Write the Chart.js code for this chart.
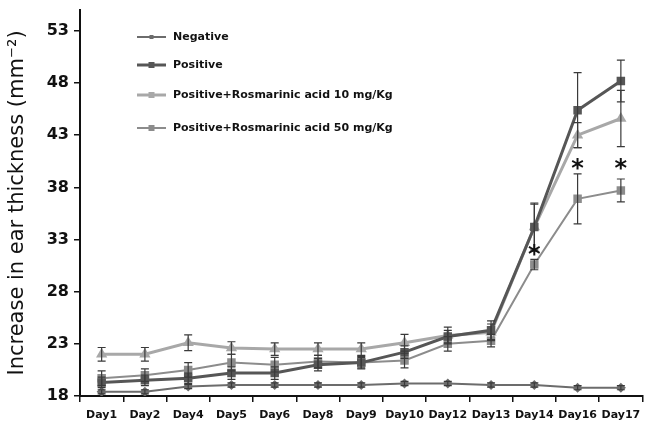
<!DOCTYPE html>
<html>
<head>
<meta charset="utf-8">
<script src="https://cdn.jsdelivr.net/npm/chart.js@4/dist/chart.umd.min.js"></script>
<style>
  html, body { margin: 0; padding: 0; background: #fff; }
  #wrap { width: 649px; height: 427px; position: relative; }
</style>
</head>
<body>
<div id="wrap"><canvas id="c" width="649" height="427"></canvas></div>
<script>
// Ear thickness over the course of the study (mean ± error)
const days = ['Day1','Day2','Day4','Day5','Day6','Day8','Day9','Day10','Day12','Day13','Day14','Day16','Day17'];

const negative    = [18.4, 18.4, 18.9, 19.05, 19.05, 19.05, 19.05, 19.2, 19.2, 19.05, 19.05, 18.8, 18.8];
const negativeErr = [0.2, 0.2, 0.2, 0.2, 0.2, 0.2, 0.2, 0.2, 0.2, 0.2, 0.2, 0.2, 0.2];

const positive    = [19.3, 19.5, 19.7, 20.2, 20.2, 21.0, 21.2, 22.2, 23.7, 24.3, 34.2, 45.4, 48.2];
const positiveErr = [0.5, 0.5, 0.5, 0.6, 0.6, 0.6, 0.5, 0.6, 0.6, 0.9, 2.3, 3.6, 2.0];

const rosa10    = [22.0, 22.0, 23.1, 22.6, 22.5, 22.5, 22.5, 23.1, 23.8, 24.1, 34.2, 43.0, 44.6];
const rosa10Err = [0.65, 0.65, 0.75, 0.6, 0.6, 0.6, 0.6, 0.8, 0.8, 0.8, 2.2, 1.2, 2.7];

const rosa50    = [19.7, 20.0, 20.5, 21.2, 21.0, 21.3, 21.2, 21.4, 23.0, 23.3, 30.6, 36.9, 37.7];
const rosa50Err = [0.7, 0.6, 0.7, 0.8, 0.7, 0.6, 0.6, 0.7, 0.7, 0.6, 0.5, 2.4, 1.1];

// significance markers (category, value at which the asterisk sits)
const sigDays   = ['Day14', 'Day16', 'Day17'];
const sigLevels = [31.9, 40.2, 40.2];

const yTicks = [18, 23, 28, 33, 38, 43, 48, 53];

const series = [
  { label: 'Negative', data: negative, err: negativeErr, color: '#6c6c6c', width: 2, style: 'rectRot', r: 5 },
  { label: 'Positive', data: positive, err: positiveErr, color: '#565656', width: 3, style: 'rect', r: 6 },
  { label: 'Positive+Rosmarinic acid 10 mg/Kg', data: rosa10, err: rosa10Err, color: '#a8a8a8', width: 3, style: 'triangle', r: 6.5 },
  { label: 'Positive+Rosmarinic acid 50 mg/Kg', data: rosa50, err: rosa50Err, color: '#8c8c8c', width: 2, style: 'rect', r: 6 }
];

const errorBars = {
  id: 'errorBars',
  afterDatasetsDraw(chart) {
    const ctx = chart.ctx;
    const ys = chart.scales.y;
    ctx.save();
    chart.data.datasets.forEach((ds, di) => {
      const meta = chart.getDatasetMeta(di);
      ds.data.forEach((v, i) => {
        const e = ds.err[i];
        if (!e) return;
        const x = meta.data[i].x;
        const top = ys.getPixelForValue(v + e);
        const bot = ys.getPixelForValue(v - e);
        ctx.strokeStyle = '#3a3a3a';
        ctx.lineWidth = 1.2;
        ctx.beginPath();
        ctx.moveTo(x, top); ctx.lineTo(x, bot);
        ctx.moveTo(x - 4, top); ctx.lineTo(x + 4, top);
        ctx.moveTo(x - 4, bot); ctx.lineTo(x + 4, bot);
        ctx.stroke();
      });
    });
    // asterisks
    const xs = chart.scales.x;
    ctx.fillStyle = '#111';
    ctx.font = 'bold 24px "DejaVu Sans"';
    ctx.textAlign = 'center';
    ctx.textBaseline = 'middle';
    sigDays.forEach((d, k) => {
      const x = xs.getPixelForValue(days.indexOf(d));
      const y = ys.getPixelForValue(sigLevels[k]);
      ctx.fillText('*', x, y + 5);
    });
    ctx.restore();
  }
};

const insetLegend = {
  id: 'insetLegend',
  afterDraw(chart) {
    const ctx = chart.ctx;
    const rows = [37, 65, 95, 128];
    ctx.save();
    chart.data.datasets.forEach((ds, i) => {
      const y = rows[i];
      ctx.strokeStyle = ds.borderColor;
      ctx.lineWidth = ds.borderWidth;
      ctx.beginPath();
      ctx.moveTo(137, y); ctx.lineTo(166, y);
      ctx.stroke();
      ctx.fillStyle = ds.borderColor;
      const s = i === 0 ? 2 : 3;
      ctx.fillRect(151.5 - s, y - s, s * 2, s * 2);
      ctx.fillStyle = '#111';
      ctx.font = 'bold 11px "DejaVu Sans"';
      ctx.textAlign = 'left';
      ctx.textBaseline = 'middle';
      ctx.fillText(ds.label, 173, y);
    });
    ctx.restore();
  }
};

new Chart(document.getElementById('c'), {
  type: 'line',
  data: {
    labels: days,
    datasets: series.map(s => ({
      label: s.label,
      data: s.data,
      err: s.err,
      borderColor: s.color,
      backgroundColor: s.color,
      borderWidth: s.width,
      pointStyle: s.style,
      pointRadius: s.r,
      pointBorderWidth: 0,
      pointBackgroundColor: s.color,
      tension: 0,
      fill: false
    }))
  },
  options: {
    responsive: false,
    animation: false,
    devicePixelRatio: 1,
    layout: { padding: { top: 10, right: 0, left: 0, bottom: 0 } },
    plugins: {
      legend: { display: false },
      tooltip: { enabled: false }
    },
    scales: {
      x: {
        offset: true,
        grid: { display: true, offset: true, drawOnChartArea: false, drawTicks: true, tickLength: 6, color: '#111', lineWidth: 1.5 },
        border: { display: true, color: '#111', width: 2 },
        ticks: { color: '#111', font: { family: 'DejaVu Sans', weight: 'bold', size: 11 }, padding: 7, maxRotation: 0, autoSkip: false },
        afterFit(scale) { scale.height = 31; }
      },
      y: {
        min: 18,
        max: 55,
        afterBuildTicks(scale) { scale.ticks = yTicks.map(v => ({ value: v })); },
        grid: { display: true, drawOnChartArea: false, drawTicks: true, tickLength: 6, color: '#111', lineWidth: 1.5 },
        border: { display: true, color: '#111', width: 2 },
        ticks: { color: '#111', font: { family: 'DejaVu Sans', weight: 'bold', size: 16 }, padding: 5 },
        title: {
          display: true,
          text: 'Increase in ear thickness (mm\u207B\u00B2)',
          color: '#111',
          font: { family: 'DejaVu Sans', size: 21 },
          padding: { top: 5, bottom: 0 }
        },
        afterFit(scale) {
          scale.width = 80;
          scale.paddingTop = 0;
          scale.paddingBottom = 0;
        }
      }
    }
  },
  plugins: [errorBars, insetLegend]
});
</script>
</body>
</html>
